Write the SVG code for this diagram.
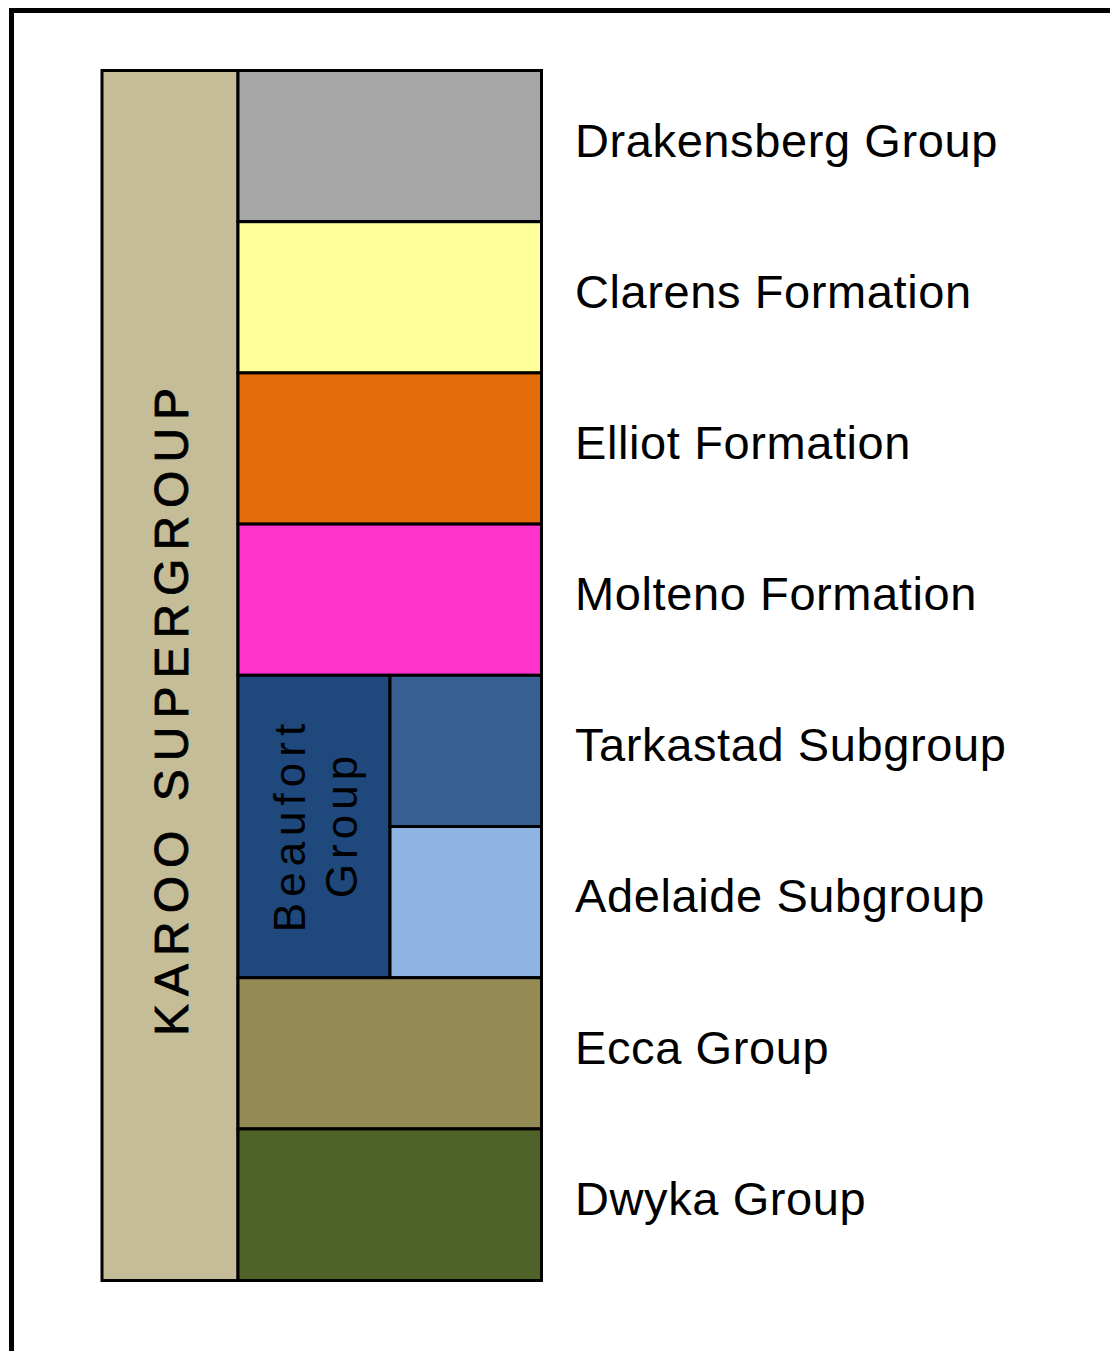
<svg xmlns="http://www.w3.org/2000/svg" width="1110" height="1351" viewBox="0 0 1110 1351">
<style>
.box{stroke:#000;stroke-width:3}
.lbl{font-family:"Liberation Sans",Arial,sans-serif;font-size:47px;letter-spacing:0.6px;fill:#000}
.vt{font-family:"Liberation Sans",Arial,sans-serif;fill:#000}
</style>
<rect width="1110" height="1351" fill="#fff"/>
<rect x="11.5" y="10.5" width="1200" height="1500" fill="#fff" stroke="#000" stroke-width="5"/>
<g id="karoo-supergroup">
<rect class="box" x="102" y="70.5" width="136" height="1210" fill="#C4BD97"/>
<text class="vt" font-size="48" letter-spacing="8" stroke="#000" stroke-width="0.8" transform="translate(188,1036) rotate(-90)">KAROO SUPERGROUP</text>
</g>
<g id="drakensberg">
<rect class="box" x="238" y="70.5" width="303.5" height="151.2" fill="#A6A6A6"/>
<text class="lbl" x="575" y="157">Drakensberg Group</text>
</g>
<g id="clarens">
<rect class="box" x="238" y="221.7" width="303.5" height="151.2" fill="#FFFF99"/>
<text class="lbl" x="575" y="308">Clarens Formation</text>
</g>
<g id="elliot">
<rect class="box" x="238" y="372.9" width="303.5" height="151.2" fill="#E46C0A"/>
<text class="lbl" x="575" y="459">Elliot Formation</text>
</g>
<g id="molteno">
<rect class="box" x="238" y="524.1" width="303.5" height="151.2" fill="#FF33CC"/>
<text class="lbl" x="575" y="610">Molteno Formation</text>
</g>
<g id="beaufort">
<rect class="box" x="238" y="675.3" width="152" height="302.4" fill="#1F497D"/>
<text class="vt" font-size="44" letter-spacing="6" text-anchor="middle" transform="translate(305,825) rotate(-90)">Beaufort</text>
<text class="vt" font-size="44" letter-spacing="5" text-anchor="middle" transform="translate(357,824.5) rotate(-90)">Group</text>
</g>
<g id="tarkastad">
<rect class="box" x="390" y="675.3" width="151.5" height="151.2" fill="#376092"/>
<text class="lbl" x="575" y="761">Tarkastad Subgroup</text>
</g>
<g id="adelaide">
<rect class="box" x="390" y="826.5" width="151.5" height="151.2" fill="#8EB4E3"/>
<text class="lbl" x="575" y="912">Adelaide Subgroup</text>
</g>
<g id="ecca">
<rect class="box" x="238" y="977.7" width="303.5" height="151.2" fill="#948A54"/>
<text class="lbl" x="575" y="1064">Ecca Group</text>
</g>
<g id="dwyka">
<rect class="box" x="238" y="1128.9" width="303.5" height="151.6" fill="#4F6228"/>
<text class="lbl" x="575" y="1215">Dwyka Group</text>
</g>
<g id="connectors"/>
</svg>
